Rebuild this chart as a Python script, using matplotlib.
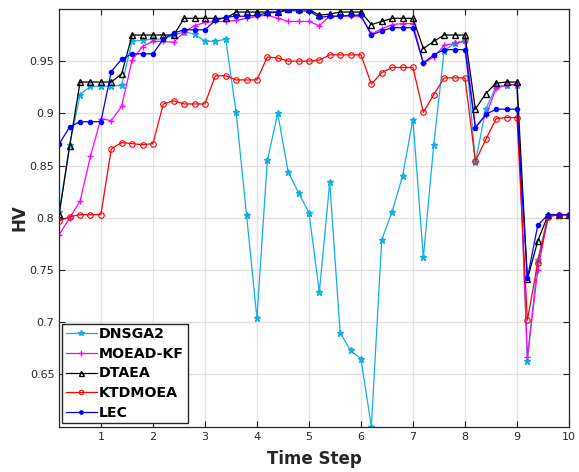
import numpy as np
import matplotlib as mpl
mpl.use('Agg')
import matplotlib.pyplot as plt

# HV of the five algorithms at each time step
time_step = [round(0.2 * i, 1) for i in range(1, 51)]

dnsga2 = [0.806, 0.870, 0.918, 0.926, 0.926, 0.926, 0.927, 0.969, 0.970, 0.971,
          0.971, 0.975, 0.978, 0.976, 0.969, 0.969, 0.971, 0.901, 0.803, 0.704,
          0.855, 0.900, 0.844, 0.824, 0.805, 0.729, 0.834, 0.690, 0.673, 0.665,
          0.600, 0.779, 0.806, 0.840, 0.894, 0.762, 0.870, 0.960, 0.967, 0.970,
          0.853, 0.904, 0.926, 0.927, 0.927, 0.663, 0.760, 0.803, 0.803, 0.803]

moead_kf = [0.784, 0.800, 0.816, 0.859, 0.895, 0.893, 0.907, 0.951, 0.964, 0.969,
            0.969, 0.968, 0.978, 0.984, 0.987, 0.988, 0.988, 0.989, 0.991, 0.993,
            0.994, 0.991, 0.988, 0.988, 0.988, 0.984, 0.993, 0.993, 0.993, 0.993,
            0.976, 0.981, 0.985, 0.986, 0.986, 0.948, 0.954, 0.965, 0.967, 0.969,
            0.887, 0.898, 0.924, 0.927, 0.928, 0.667, 0.750, 0.801, 0.803, 0.803]

dtaea = [0.804, 0.869, 0.930, 0.930, 0.930, 0.930, 0.938, 0.975, 0.975, 0.975,
         0.975, 0.975, 0.991, 0.991, 0.991, 0.991, 0.991, 0.997, 0.997, 0.997,
         0.997, 0.997, 0.9995, 0.9995, 0.9995, 0.994, 0.995, 0.997, 0.997, 0.997,
         0.985, 0.988, 0.991, 0.991, 0.991, 0.962, 0.969, 0.975, 0.975, 0.975,
         0.904, 0.919, 0.929, 0.930, 0.930, 0.741, 0.778, 0.803, 0.803, 0.803]

ktdmoea = [0.797, 0.801, 0.803, 0.803, 0.803, 0.866, 0.872, 0.871, 0.870, 0.871,
           0.909, 0.912, 0.909, 0.909, 0.909, 0.936, 0.936, 0.932, 0.932, 0.932,
           0.954, 0.953, 0.950, 0.950, 0.950, 0.951, 0.956, 0.956, 0.956, 0.956,
           0.928, 0.939, 0.944, 0.944, 0.944, 0.901, 0.918, 0.934, 0.934, 0.934,
           0.854, 0.875, 0.895, 0.896, 0.896, 0.702, 0.757, 0.801, 0.803, 0.803]

lec = [0.871, 0.887, 0.892, 0.892, 0.892, 0.940, 0.952, 0.957, 0.957, 0.957,
       0.971, 0.977, 0.980, 0.980, 0.980, 0.989, 0.992, 0.993, 0.993, 0.994,
       0.996, 0.997, 0.9985, 0.998, 0.998, 0.992, 0.993, 0.993, 0.994, 0.994,
       0.975, 0.979, 0.982, 0.982, 0.982, 0.948, 0.956, 0.961, 0.961, 0.961,
       0.886, 0.899, 0.904, 0.904, 0.904, 0.742, 0.793, 0.803, 0.803, 0.803]

names = ['DNSGA2', 'MOEAD-KF', 'DTAEA', 'KTDMOEA', 'LEC']
xticks = list(range(1, 11))
yticks = [0.65, 0.7, 0.75, 0.8, 0.85, 0.9, 0.95]

dark = '#262626'

fig = plt.figure(figsize=(5.79, 4.72), dpi=100)
ax = fig.add_axes([0.1024, 0.096, 0.8803, 0.884])

ax.plot(time_step, dnsga2, color='#12aee8', marker='*', ms=5, lw=0.9, label=names[0])
ax.plot(time_step, moead_kf, color='#ff00ff', marker='+', ms=5, lw=0.9, label=names[1])
ax.plot(time_step, dtaea, color='k', marker='^', ms=4.5, mfc='none', lw=0.9, label=names[2])
ax.plot(time_step, ktdmoea, color='#ff0000', marker='o', ms=4, mfc='none', mew=0.8,
        lw=0.9, label=names[3])
ax.plot(time_step, lec, color='#0000ff', marker='o', ms=3, lw=0.9, label=names[4])

allv = np.concatenate([dnsga2, moead_kf, dtaea, ktdmoea, lec])
ax.set_xlim(time_step[0], time_step[-1])
ax.set_ylim(allv.min(), allv.max())
ax.set_xticks(xticks)
ax.set_yticks(yticks)
ax.set_yticklabels(['%g' % v for v in yticks])

ax.grid(True, color='#e3e3e3', lw=1)
ax.set_axisbelow(True)
ax.tick_params(direction='in', length=4, top=True, right=True, labelsize=8,
               colors=dark, width=0.8)
for s in ax.spines.values():
    s.set_color(dark)
    s.set_linewidth(0.9)

ax.set_xlabel('Time Step', fontsize=12, fontweight='bold', color=dark, labelpad=6)
ax.set_ylabel('HV', fontsize=12, fontweight='bold', color=dark)
ax.yaxis.set_label_coords(-0.061, 0.5)

leg = ax.legend(loc='lower left', bbox_to_anchor=(0.006, 0.008), borderaxespad=0,
                fancybox=False, framealpha=1, edgecolor=dark,
                prop={'weight': 'bold', 'size': 10.2}, handlelength=2.2,
                handletextpad=0.15, labelspacing=0.4, borderpad=0.25, markerscale=0.8)
leg.get_frame().set_linewidth(1)

fig.savefig('out.png', dpi=100)
